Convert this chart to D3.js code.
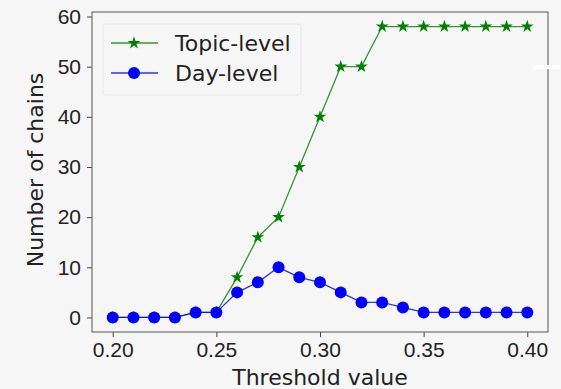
<!DOCTYPE html>
<html>
<head>
<meta charset="utf-8">
<script src="https://cdn.jsdelivr.net/npm/d3@7"></script>
<style>
  html, body { margin: 0; padding: 0; background: #f6f6f6; }
  svg { display: block; font-family: 'DejaVu Sans', sans-serif; }
</style>
</head>
<body>
<div id="chart"></div>
<script>
const WIDTH = 561
const HEIGHT = 389

const thresholds = [0.20, 0.21, 0.22, 0.23, 0.24, 0.25, 0.26, 0.27, 0.28, 0.29, 0.30,
  0.31, 0.32, 0.33, 0.34, 0.35, 0.36, 0.37, 0.38, 0.39, 0.40]
const topicLevel = [0, 0, 0, 0, 1, 1, 8, 16, 20, 30, 40, 50, 50, 58, 58, 58, 58, 58, 58, 58, 58]
const dayLevel = [0, 0, 0, 0, 1, 1, 5, 7, 10, 8, 7, 5, 3, 3, 2, 1, 1, 1, 1, 1, 1]
const xTicks = [0.20, 0.25, 0.30, 0.35, 0.40]
const yTicks = [0, 10, 20, 30, 40, 50, 60]

const margin = { left: 92, right: 13, top: 12, bottom: 57 }

const svg = d3.select('#chart')
  .append('svg')
  .attr('width', WIDTH)
  .attr('height', HEIGHT)

svg.append('rect')
  .attr('width', WIDTH)
  .attr('height', HEIGHT)
  .attr('fill', '#f6f6f6')

const x = d3.scaleLinear()
  .domain([0.19, 0.41])
  .range([margin.left, WIDTH - margin.right])

const y = d3.scaleLinear()
  .domain([-2.9, 60.9])
  .range([HEIGHT - margin.bottom, margin.top])

// axes
const xAxis = svg.append('g')
  .attr('transform', `translate(0, ${HEIGHT - margin.bottom})`)
  .call(d3.axisBottom(x).tickValues(xTicks).tickFormat(d3.format('.2f')).tickSize(5).tickPadding(5))

const yAxis = svg.append('g')
  .attr('transform', `translate(${margin.left}, 0)`)
  .call(d3.axisLeft(y).tickValues(yTicks).tickSize(5).tickPadding(6))

;[xAxis, yAxis].forEach(a => {
  a.select('.domain').remove()
  a.selectAll('.tick line').attr('stroke', '#444')
  a.selectAll('.tick text')
    .attr('fill', '#222')
    .style('font-size', '21px')
})

// frame
svg.append('rect')
  .attr('x', x.range()[0])
  .attr('y', y.range()[1])
  .attr('width', x.range()[1] - x.range()[0])
  .attr('height', y.range()[0] - y.range()[1])
  .attr('fill', 'none')
  .attr('stroke', '#555')
  .attr('stroke-width', 1)

svg.append('text')
  .attr('x', (x.range()[0] + x.range()[1]) / 2)
  .attr('y', 385)
  .attr('text-anchor', 'middle')
  .attr('fill', '#222')
  .style('font-size', '22px')
  .text('Threshold value')

svg.append('text')
  .attr('transform', 'translate(43, 170) rotate(-90)')
  .attr('text-anchor', 'middle')
  .attr('fill', '#222')
  .style('font-size', '22px')
  .text('Number of chains')

const star = d3.symbol().type(d3.symbolStar).size(50)
const line = d3.line()
  .x((d, i) => x(thresholds[i]))
  .y(d => y(d))

// topic-level (drawn first, day-level sits on top)
svg.append('path')
  .datum(topicLevel)
  .attr('fill', 'none')
  .attr('stroke', '#008000')
  .attr('stroke-opacity', 0.8)
  .attr('stroke-width', 1.3)
  .attr('d', line)

svg.append('g')
  .selectAll('path')
  .data(topicLevel)
  .join('path')
  .attr('transform', (d, i) => `translate(${x(thresholds[i])}, ${y(d)})`)
  .attr('d', star)
  .attr('fill', '#008000')

// day-level
svg.append('path')
  .datum(dayLevel)
  .attr('fill', 'none')
  .attr('stroke', '#0000ff')
  .attr('stroke-opacity', 0.8)
  .attr('stroke-width', 1.3)
  .attr('d', line)

svg.append('g')
  .selectAll('circle')
  .data(dayLevel)
  .join('circle')
  .attr('cx', (d, i) => x(thresholds[i]))
  .attr('cy', d => y(d))
  .attr('r', 6)
  .attr('fill', '#0000ff')

// legend
const legend = svg.append('g')
legend.append('rect')
  .attr('x', 103)
  .attr('y', 24)
  .attr('width', 198)
  .attr('height', 71)
  .attr('rx', 3)
  .attr('fill', '#f6f6f6')
  .attr('stroke', '#e6e6e6')

const legendItems = [
  { label: 'Topic-level', color: '#008000', marker: 'star', y: 43 },
  { label: 'Day-level', color: '#0000ff', marker: 'circle', y: 73 }
]

legendItems.forEach(item => {
  legend.append('line')
    .attr('x1', 111)
    .attr('x2', 158)
    .attr('y1', item.y)
    .attr('y2', item.y)
    .attr('stroke', item.color)
    .attr('stroke-opacity', 0.8)
    .attr('stroke-width', 1.3)
  if (item.marker === 'star') {
    legend.append('path')
      .attr('transform', `translate(134, ${item.y})`)
      .attr('d', star)
      .attr('fill', item.color)
  } else {
    legend.append('circle')
      .attr('cx', 134)
      .attr('cy', item.y)
      .attr('r', 6)
      .attr('fill', item.color)
  }
  legend.append('text')
    .attr('x', 175)
    .attr('y', item.y)
    .attr('dy', '0.35em')
    .attr('fill', '#222')
    .style('font-size', '22px')
    .text(item.label)
})

// small white artefact on the right edge
svg.append('rect')
  .attr('x', 533)
  .attr('y', 65)
  .attr('width', 27)
  .attr('height', 4)
  .attr('fill', '#ffffff')
</script>
</body>
</html>
